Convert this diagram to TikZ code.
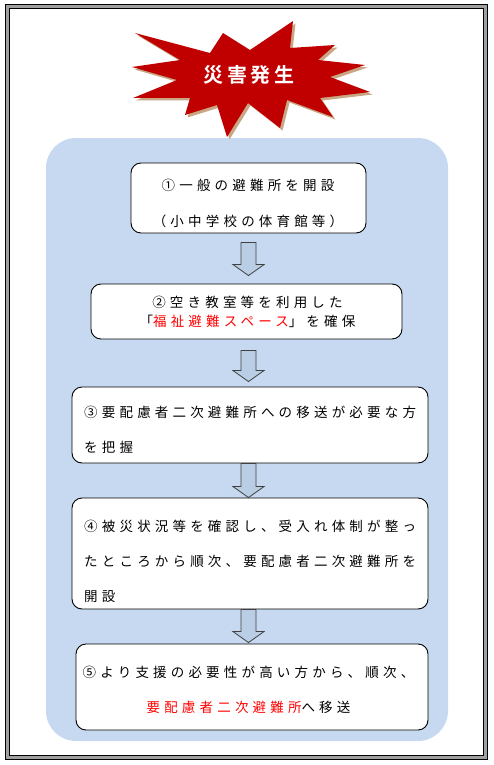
\documentclass[tikz,border=0pt]{standalone}
\usepackage{fontspec}
\usetikzlibrary{calc}
\newfontfamily\jp{Noto Sans CJK JP}[LetterSpace=31]
\newfontfamily\jpt{Noto Sans CJK JP Bold}[LetterSpace=18]
\definecolor{panel}{HTML}{C6D9F1}
\definecolor{arrowfill}{HTML}{B9CDE5}
\definecolor{arrowline}{HTML}{404040}
\definecolor{starred}{HTML}{C00000}
\definecolor{starshadow}{RGB}{201,166,132}
\definecolor{framegray}{HTML}{A0A0A0}
\definecolor{hl}{HTML}{FF0000}
\tikzset{
  stepbox/.style={draw=black, line width=0.9pt, fill=white, rounded corners=10pt, inner sep=0pt},
  steptext/.style={inner sep=0pt, text=black, font=\jp\fontsize{13.5}{35}\selectfont},
  blockarrow/.style={draw=arrowline, line width=0.8pt, fill=arrowfill, line join=miter},
  titletext/.style={inner sep=0pt, text=white, font=\jpt\fontsize{20}{20}\selectfont},
}
\newcommand\blockdown[2]{%
  \draw[blockarrow] let \p1=(#1), \p2=(#2) in
    (\x1-7.5pt,\y1) -- (\x1+7.5pt,\y1) -- (\x1+7.5pt,\y2+11pt) -- (\x1+15.5pt,\y2+11pt)
    -- (\x1,\y2) -- (\x1-15.5pt,\y2+11pt) -- (\x1-7.5pt,\y2+11pt) -- cycle;}
\begin{document}
\begin{tikzpicture}[x=1pt,y=-1pt]
\useasboundingbox (0,0) rectangle (493,765);
% outer frame
\draw[framegray, line width=2.5pt] (7.5,6.5) rectangle (485.5,757.5);
\draw[black, line width=0.9pt] (5.7,4.9) rectangle (487.3,759.1);
\draw[black, line width=0.9pt] (9.3,8.3) rectangle (483.7,755.7);
% panel
\fill[panel, rounded corners=30pt] (46,138) rectangle (448,741);
% star shadow
\fill[starshadow, shift={(2.5,2.5)}] (135,33) -- (210,53) -- (223,33) -- (250,50) -- (293,21) -- (290,48) -- (335,45) -- (318,60) -- (365,65) -- (330,77) -- (370,92) -- (320,98) -- (333,117) -- (287,100) -- (280,128) -- (248,103) -- (227,137) -- (217,105) -- (185,115) -- (190,98) -- (133,98) -- (177,80) -- (132,67) -- (180,60) -- cycle;
% star
\fill[starred] (135,33) -- (210,53) -- (223,33) -- (250,50) -- (293,21) -- (290,48) -- (335,45) -- (318,60) -- (365,65) -- (330,77) -- (370,92) -- (320,98) -- (333,117) -- (287,100) -- (280,128) -- (248,103) -- (227,137) -- (217,105) -- (185,115) -- (190,98) -- (133,98) -- (177,80) -- (132,67) -- (180,60) -- cycle;
\node[titletext] (title) at (249,75) {災害発生};
% boxes
\node[stepbox, minimum width=235pt, minimum height=70pt] (b1) at (248.5,198) {};
\node[stepbox, minimum width=311pt, minimum height=55pt] (b2) at (246.5,311.5) {};
\node[stepbox, minimum width=356pt, minimum height=76pt] (b3) at (250,425) {};
\node[stepbox, minimum width=356pt, minimum height=111pt] (b4) at (250,553.5) {};
\node[stepbox, minimum width=352pt, minimum height=86pt] (b5) at (252,687) {};
% texts
\node[steptext, align=center, font=\jp\fontsize{13.5}{36}\selectfont] (t1) at (248,203) {①一般の避難所を開設\\（小中学校の体育館等）};
\node[steptext, align=center, font=\jp\fontsize{13.5}{19}\selectfont] (t2) at (247.5,311.5) {②空き教室等を利用した\\「\textcolor{hl}{福祉避難スペース}」を確保};
\node[steptext, align=left, anchor=west] (t3) at (84,429.5) {③要配慮者二次避難所への移送が必要な方\\を把握};
\node[steptext, align=left, anchor=west] (t4) at (84,561) {④被災状況等を確認し、受入れ体制が整っ\\たところから順次、要配慮者二次避難所を\\開設};
\node[steptext, align=center] (t5) at (248.5,689.5) {⑤より支援の必要性が高い方から、順次、\\\textcolor{hl}{要配慮者二次避難所}へ移送};
% arrows
\coordinate (axis) at (248.5,0);
\coordinate (a1s) at ($(b1.south -| axis)+(0,9)$);
\coordinate (a1e) at ($(b2.north -| axis)+(0,-8)$);
\coordinate (a2s) at ($(b2.south -| axis)+(0,11)$);
\coordinate (a2e) at ($(b3.north -| axis)+(0,-5)$);
\coordinate (a3s) at (b3.south -| axis);
\coordinate (a3e) at (b4.north -| axis);
\coordinate (a4s) at (b4.south -| axis);
\coordinate (a4e) at ($(b5.north -| axis)+(0,-1)$);
\blockdown{a1s}{a1e}
\blockdown{a2s}{a2e}
\blockdown{a3s}{a3e}
\blockdown{a4s}{a4e}
\end{tikzpicture}
\end{document}
